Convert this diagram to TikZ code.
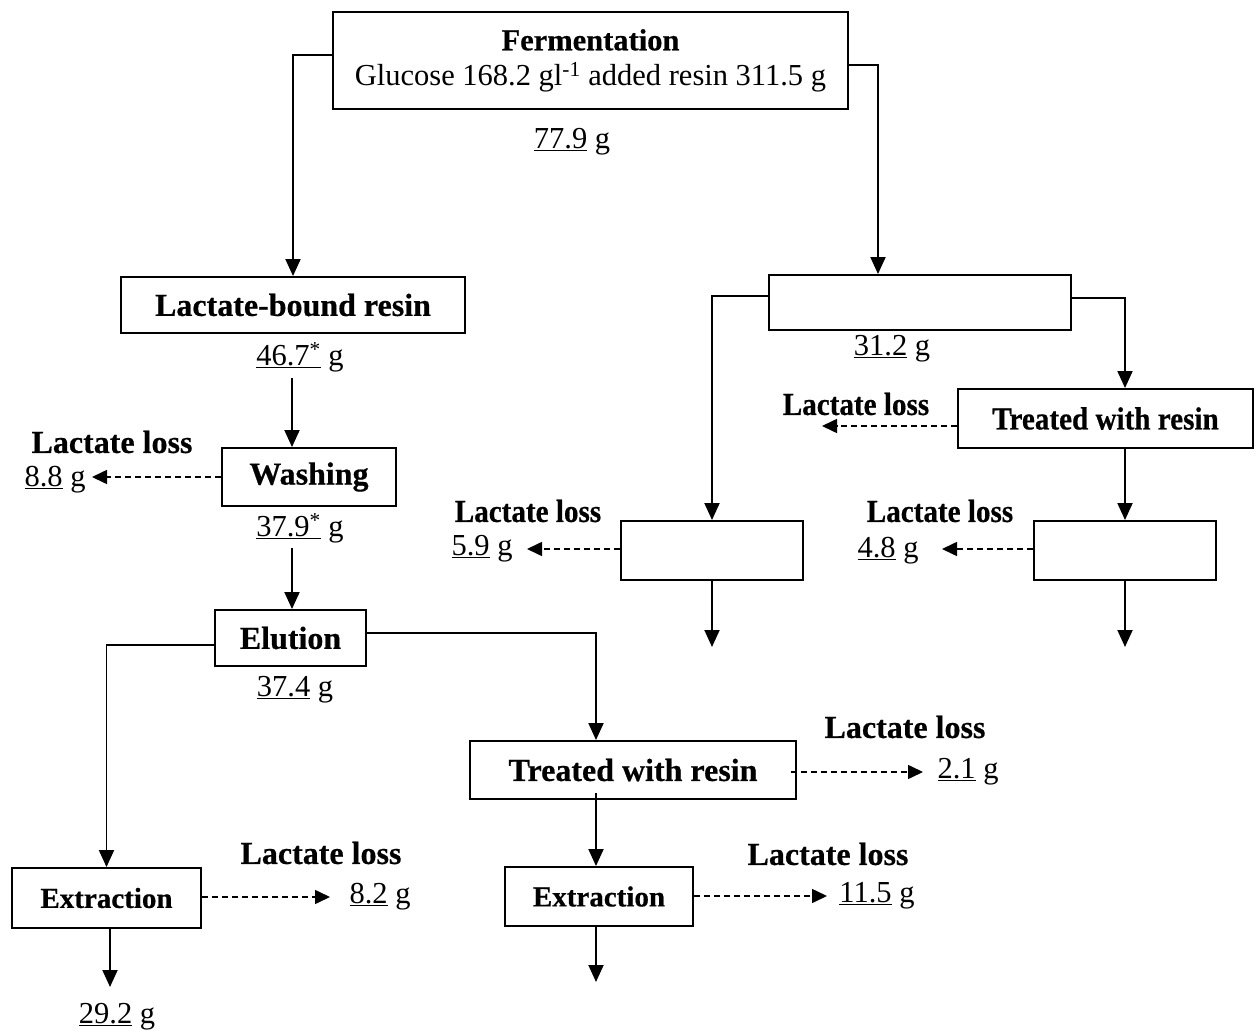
\documentclass[tikz,border=0pt]{standalone}
\usepackage{fontspec}
\setmainfont{Liberation Serif}
\newfontfamily\lbold{Liberation Serif}[BoldFeatures={FakeBold=0.5}]
\newfontfamily\lboldc{Liberation Serif}[FakeStretch=0.91, BoldFeatures={FakeBold=0.5}]
\usetikzlibrary{arrows.meta}
\begin{document}
\begin{tikzpicture}[x=1pt,y=-1pt,
  box/.style={draw, line width=1.9pt, inner sep=0pt, font=\fontsize{32}{36}\lbold\bfseries},
  boxc/.style={draw, line width=1.9pt, inner sep=0pt, font=\fontsize{32}{36}\lboldc\bfseries},
  lbl/.style={inner sep=0pt, font=\fontsize{30.5}{35}\selectfont},
  blbl/.style={inner sep=0pt, font=\fontsize{32}{36}\lbold\bfseries},
  blblc/.style={inner sep=0pt, font=\fontsize{32}{36}\lboldc\bfseries},
  arr/.style={line width=1.9pt, -{Triangle[length=17pt,width=15pt]}},
  darr/.style={line width=1.6pt, dash pattern=on 6pt off 4pt, -{Triangle[length=15pt,width=14pt]}}]
\useasboundingbox (0,0) rectangle (1259,1032);

% boxes
\node[box, minimum width=515pt, minimum height=97pt, align=center, font=\fontsize{30.5}{35}\selectfont] (ferm) at (590.5,60.5)
  {{\fontsize{30.5}{35}\lbold\bfseries Fermentation}\\Glucose 168.2 gl\textsuperscript{-1} added resin 311.5 g};
\node[box, minimum width=344pt, minimum height=56pt] (lbr) at (293,305) {Lactate-bound resin};
\node[box, minimum width=174pt, minimum height=58pt] (wash) at (309,477) {Washing};
\node[box, minimum width=151pt, minimum height=56pt] (elut) at (290.5,638) {Elution};
\node[box, minimum width=189pt, minimum height=60pt, font=\fontsize{29}{34}\lbold\bfseries] (extL) at (106.5,898) {Extraction};
\node[box, minimum width=326pt, minimum height=58pt] (twrB) at (633,770) {Treated with resin};
\node[box, minimum width=188pt, minimum height=59pt, font=\fontsize{29}{34}\lbold\bfseries] (extM) at (599,896.5) {Extraction};
\node[box, minimum width=302pt, minimum height=55pt] (R1) at (920,302.5) {};
\node[boxc, minimum width=295pt, minimum height=59pt] (twrR) at (1105.5,418.5) {Treated with resin};
\node[box, minimum width=182pt, minimum height=59pt] (RM) at (712,550.5) {};
\node[box, minimum width=182pt, minimum height=59pt] (RR) at (1125,550.5) {};

% labels
\node[lbl] (l779) at (572,142) {\underline{77.9} g};
\node[lbl] (l467) at (300,357) {\underline{46.7\textsuperscript{*}} g};
\node[lbl] (l379) at (300,528) {\underline{37.9\textsuperscript{*}} g};
\node[lbl] (l374) at (295,690) {\underline{37.4} g};
\node[lbl] (l292) at (117,1017) {\underline{29.2} g};
\node[lbl] (l312) at (892,349) {\underline{31.2} g};
\node[blbl] (LL1) at (112,442) {Lactate loss};
\node[lbl] (l88) at (55,480) {\underline{8.8} g};
\node[blbl] (LL2) at (321,853) {Lactate loss};
\node[lbl] (l82) at (380,897) {\underline{8.2} g};
\node[blbl] (LL3) at (905,727) {Lactate loss};
\node[lbl] (l21) at (968,772) {\underline{2.1} g};
\node[blbl] (LL4) at (828,854) {Lactate loss};
\node[lbl] (l115) at (877,896) {\underline{11.5} g};
\node[blblc] (LL5) at (856,404) {Lactate loss};
\node[blblc] (LL6) at (940,511) {Lactate loss};
\node[lbl] (l48) at (888,551) {\underline{4.8} g};
\node[blblc] (LL7) at (528,511) {Lactate loss};
\node[lbl] (l59) at (482,549) {\underline{5.9} g};

% free-end coordinates
\coordinate (c1) at (292,378);
\coordinate (c2) at (292,548);
\coordinate (e1) at (596,982);
\coordinate (e2) at (110,987);
\coordinate (e3) at (1125,647);
\coordinate (e4) at (712,647);
\coordinate (t88) at (92,477);
\coordinate (t82) at (330,897);
\coordinate (t115) at (827,896);
\coordinate (t21) at (923,772);
\coordinate (tR5) at (822,426);
\coordinate (tR6) at (942,549);
\coordinate (tR7) at (527,549);

% solid connectors
\draw[arr] ([yshift=5.5pt]ferm.west) -| (lbr.north);
\draw[arr] ([yshift=-4.5pt]ferm.east) -| ([xshift=-42pt]R1.north);
\draw[arr] (c1) -- (c1 |- wash.north);
\draw[arr] (c2) -- (c2 |- elut.north);
\draw[arr] ([yshift=-7pt]elut.west) -| (extL.north);
\draw[arr] ([yshift=5pt]elut.east) -| ([xshift=-37pt]twrB.north);
\draw[arr] ([xshift=-37pt,yshift=7pt]twrB.south) -- ([xshift=-37pt]twrB.south |- extM.north);
\draw[arr] (e1 |- extM.south) -- (e1);
\draw[arr] (e2 |- extL.south) -- (e2);
\draw[arr] ([yshift=6.5pt]R1.west) -| (RM.north);
\draw[arr] ([yshift=4.5pt]R1.east) -| (twrR.north -| RR.north);
\draw[arr] (twrR.south -| RR.north) -- (RR.north);
\draw[arr] (RR.south) -- (e3);
\draw[arr] (RM.south) -- (e4);

% dashed loss connectors
\draw[darr] (wash.west |- t88) -- (t88);
\draw[darr] (extL.east |- t82) -- (t82);
\draw[darr] (extM.east |- t115) -- (t115);
\draw[darr] ([xshift=-6pt]twrB.east |- t21) -- (t21);
\draw[darr] (twrR.west |- tR5) -- (tR5);
\draw[darr] (RR.west |- tR6) -- (tR6);
\draw[darr] (RM.west |- tR7) -- (tR7);
\end{tikzpicture}
\end{document}
